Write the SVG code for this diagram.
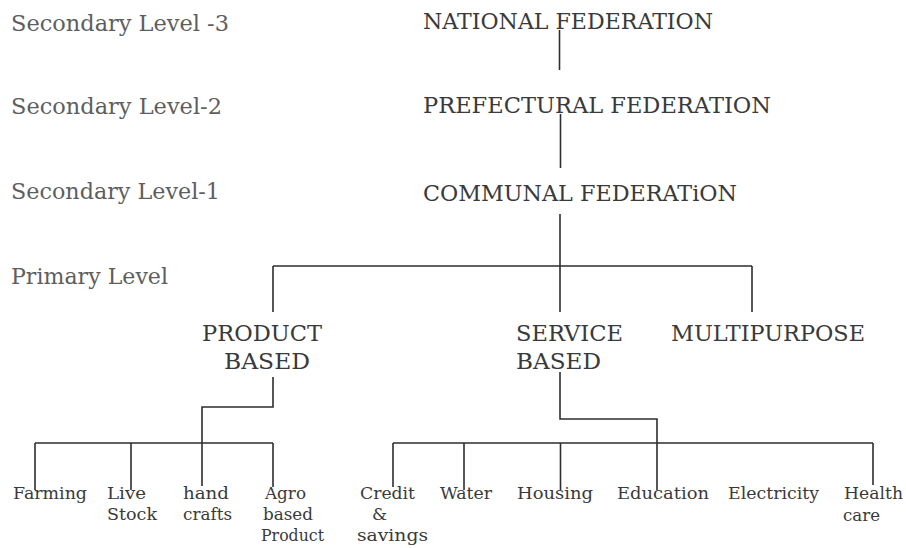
<svg xmlns="http://www.w3.org/2000/svg" width="906" height="548" viewBox="0 0 906 548">
<style>
text{font-family:"DejaVu Serif","Liberation Serif",serif;fill:#3a3a3a}
.lv{font-size:22px;fill:#5e5e5e}
.hd{font-size:22px}
.lf{font-size:17px}
#connectors path{fill:none;stroke:#2e2e2e;stroke-width:1.6}
</style>
<rect width="906" height="548" fill="#fff"/>
<g id="level-labels">
<text class="lv" x="11" y="31" textLength="218" lengthAdjust="spacingAndGlyphs">Secondary Level -3</text>
<text class="lv" x="11" y="114" textLength="211" lengthAdjust="spacingAndGlyphs">Secondary Level-2</text>
<text class="lv" x="11" y="199" textLength="209" lengthAdjust="spacingAndGlyphs">Secondary Level-1</text>
<text class="lv" x="11" y="284" textLength="157" lengthAdjust="spacingAndGlyphs">Primary Level</text>
</g>
<g id="connectors">
<path d="M559.5 30V70"/>
<path d="M560.5 114V168"/>
<path d="M560 214V312"/>
<path d="M273 266H752M273 266V312M752 266V312"/>
<path d="M273 377V407H202V486"/>
<path d="M35 443H273M35 443V490M131 443V490M273 443V487"/>
<path d="M560 372V419H657V490"/>
<path d="M393 443H873M393 443V487M464 443V490M560.5 443V490M873 443V485"/>
</g>
<g id="national"><text class="hd" x="423" y="29" textLength="290" lengthAdjust="spacingAndGlyphs">NATIONAL FEDERATION</text></g>
<g id="prefectural"><text class="hd" x="423" y="113" textLength="348" lengthAdjust="spacingAndGlyphs">PREFECTURAL FEDERATION</text></g>
<g id="communal"><text class="hd" x="423" y="201" textLength="314" lengthAdjust="spacingAndGlyphs">COMMUNAL FEDERATiON</text></g>
<g id="product-based">
<text class="hd" x="202" y="341" textLength="120" lengthAdjust="spacingAndGlyphs">PRODUCT</text>
<text class="hd" x="224" y="369" textLength="86" lengthAdjust="spacingAndGlyphs">BASED</text>
</g>
<g id="service-based">
<text class="hd" x="516" y="341" textLength="107" lengthAdjust="spacingAndGlyphs">SERVICE</text>
<text class="hd" x="516" y="369" textLength="85" lengthAdjust="spacingAndGlyphs">BASED</text>
</g>
<g id="multipurpose"><text class="hd" x="671" y="341" textLength="194" lengthAdjust="spacingAndGlyphs">MULTIPURPOSE</text></g>
<g id="farming"><text class="lf" x="13" y="499" textLength="74" lengthAdjust="spacingAndGlyphs">Farming</text></g>
<g id="live-stock">
<text class="lf" x="107" y="499" textLength="39" lengthAdjust="spacingAndGlyphs">Live</text>
<text class="lf" x="107" y="520" textLength="50" lengthAdjust="spacingAndGlyphs">Stock</text>
</g>
<g id="hand-crafts">
<text class="lf" x="183" y="499" textLength="46" lengthAdjust="spacingAndGlyphs">hand</text>
<text class="lf" x="183" y="520" textLength="49" lengthAdjust="spacingAndGlyphs">crafts</text>
</g>
<g id="agro">
<text class="lf" x="265" y="499" textLength="41" lengthAdjust="spacingAndGlyphs">Agro</text>
<text class="lf" x="263" y="520" textLength="50" lengthAdjust="spacingAndGlyphs">based</text>
<text class="lf" x="261" y="541" textLength="63" lengthAdjust="spacingAndGlyphs">Product</text>
</g>
<g id="credit">
<text class="lf" x="360" y="499" textLength="55" lengthAdjust="spacingAndGlyphs">Credit</text>
<text class="lf" x="372" y="520">&amp;</text>
<text class="lf" x="357" y="541" textLength="71" lengthAdjust="spacingAndGlyphs">savings</text>
</g>
<g id="water"><text class="lf" x="440" y="499" textLength="52" lengthAdjust="spacingAndGlyphs">Water</text></g>
<g id="housing"><text class="lf" x="517" y="499" textLength="76" lengthAdjust="spacingAndGlyphs">Housing</text></g>
<g id="education"><text class="lf" x="617" y="499" textLength="92" lengthAdjust="spacingAndGlyphs">Education</text></g>
<g id="electricity"><text class="lf" x="728" y="499" textLength="91" lengthAdjust="spacingAndGlyphs">Electricity</text></g>
<g id="health-care">
<text class="lf" x="844" y="499" textLength="59" lengthAdjust="spacingAndGlyphs">Health</text>
<text class="lf" x="843" y="521" textLength="37" lengthAdjust="spacingAndGlyphs">care</text>
</g>
</svg>
